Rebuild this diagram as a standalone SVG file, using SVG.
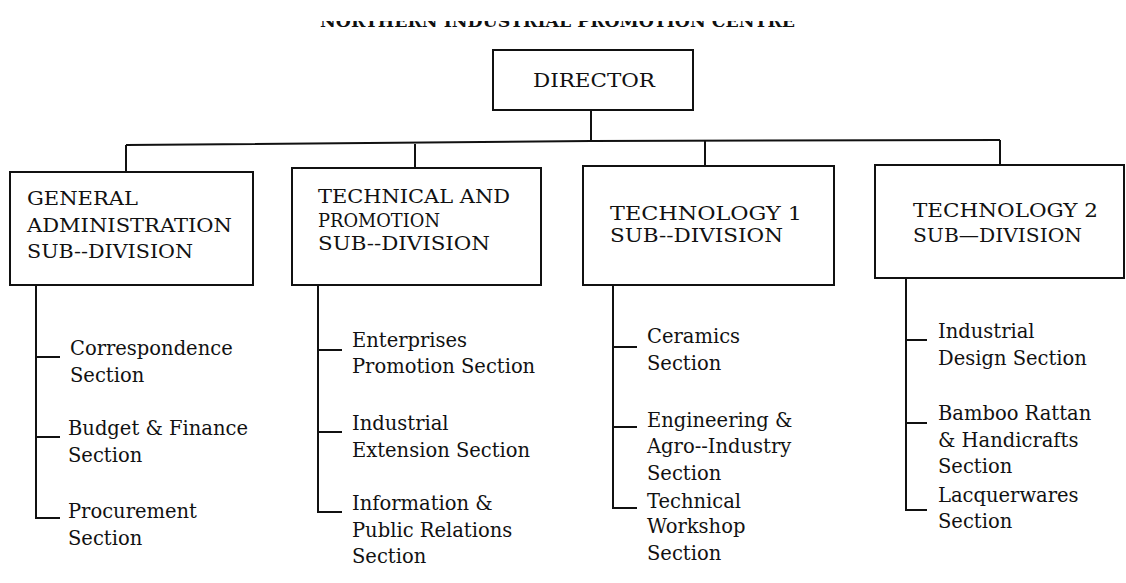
<svg xmlns="http://www.w3.org/2000/svg" width="1126" height="583" viewBox="0 0 1126 583">
<style>
.box{fill:#fff;stroke:#111;stroke-width:2}
.ln{fill:none;stroke:#111;stroke-width:2}
.hd{font-family:"DejaVu Serif","Liberation Serif",serif;font-size:18px;fill:#111}
.sc{font-family:"DejaVu Serif","Liberation Serif",serif;font-size:19.5px;fill:#111}
.tt{font-family:"DejaVu Serif","Liberation Serif",serif;font-size:17px;font-weight:bold;fill:#111}
</style>
<defs>
<clipPath id="titleClip"><rect x="0" y="21" width="1126" height="20"/></clipPath>
</defs>
<rect width="1126" height="583" fill="#fff"/>
<g id="title" clip-path="url(#titleClip)">
<text class="tt" x="320" y="27" textLength="475" lengthAdjust="spacingAndGlyphs">NORTHERN INDUSTRIAL PROMOTION CENTRE</text>
</g>
<g id="connectors">
<line class="ln" x1="591" y1="110" x2="591" y2="141"/>
<polyline class="ln" points="126,145 591,141 1000,140"/>
<line class="ln" x1="126" y1="145" x2="126" y2="172"/>
<line class="ln" x1="415" y1="144" x2="415" y2="168"/>
<line class="ln" x1="705" y1="141" x2="705" y2="166"/>
<line class="ln" x1="1000" y1="140" x2="1000" y2="165"/>
<polyline class="ln" points="36,285 36,518 60,518"/>
<line class="ln" x1="36" y1="357" x2="60" y2="357"/>
<line class="ln" x1="36" y1="437" x2="60" y2="437"/>
<polyline class="ln" points="318,285 318,512 342,512"/>
<line class="ln" x1="318" y1="350" x2="342" y2="350"/>
<line class="ln" x1="318" y1="432" x2="342" y2="432"/>
<polyline class="ln" points="613,285 613,508 637,508"/>
<line class="ln" x1="613" y1="347" x2="637" y2="347"/>
<line class="ln" x1="613" y1="427" x2="637" y2="427"/>
<polyline class="ln" points="906,278 906,510 927,510"/>
<line class="ln" x1="906" y1="340" x2="927" y2="340"/>
<line class="ln" x1="906" y1="423" x2="927" y2="423"/>
</g>
<g id="director">
<rect class="box" x="493" y="50" width="200" height="60"/>
<text class="hd" x="533" y="87" textLength="122" lengthAdjust="spacingAndGlyphs">DIRECTOR</text>
</g>
<g id="general-admin">
<rect class="box" x="10" y="172" width="243" height="113"/>
<text class="hd" x="27" y="205" textLength="111" lengthAdjust="spacingAndGlyphs">GENERAL</text>
<text class="hd" x="27" y="232" textLength="205" lengthAdjust="spacingAndGlyphs">ADMINISTRATION</text>
<text class="hd" x="27" y="258" textLength="166" lengthAdjust="spacingAndGlyphs">SUB--DIVISION</text>
</g>
<g id="technical-promotion">
<rect class="box" x="292" y="168" width="249" height="117"/>
<text class="hd" x="318" y="203" textLength="192" lengthAdjust="spacingAndGlyphs">TECHNICAL AND</text>
<text class="hd" x="318" y="227" textLength="122" lengthAdjust="spacingAndGlyphs">PROMOTION</text>
<text class="hd" x="318" y="250" textLength="172" lengthAdjust="spacingAndGlyphs">SUB--DIVISION</text>
</g>
<g id="technology-1">
<rect class="box" x="583" y="166" width="251" height="119"/>
<text class="hd" x="610" y="220" textLength="192" lengthAdjust="spacingAndGlyphs">TECHNOLOGY 1</text>
<text class="hd" x="610" y="242" textLength="173" lengthAdjust="spacingAndGlyphs">SUB--DIVISION</text>
</g>
<g id="technology-2">
<rect class="box" x="875" y="165" width="249" height="113"/>
<text class="hd" x="913" y="217" textLength="185" lengthAdjust="spacingAndGlyphs">TECHNOLOGY 2</text>
<text class="hd" x="913" y="242" textLength="169" lengthAdjust="spacingAndGlyphs">SUB—DIVISION</text>
</g>
<g id="correspondence">
<text class="sc" x="70" y="355">Correspondence</text>
<text class="sc" x="70" y="382">Section</text>
</g>
<g id="budget-finance">
<text class="sc" x="68" y="435">Budget &amp; Finance</text>
<text class="sc" x="68" y="462">Section</text>
</g>
<g id="procurement">
<text class="sc" x="68" y="518">Procurement</text>
<text class="sc" x="68" y="545">Section</text>
</g>
<g id="enterprises-promotion">
<text class="sc" x="352" y="347">Enterprises</text>
<text class="sc" x="352" y="373">Promotion Section</text>
</g>
<g id="industrial-extension">
<text class="sc" x="352" y="430">Industrial</text>
<text class="sc" x="352" y="457">Extension Section</text>
</g>
<g id="information-pr">
<text class="sc" x="352" y="510">Information &amp;</text>
<text class="sc" x="352" y="537">Public Relations</text>
<text class="sc" x="352" y="563">Section</text>
</g>
<g id="ceramics">
<text class="sc" x="647" y="343">Ceramics</text>
<text class="sc" x="647" y="370">Section</text>
</g>
<g id="engineering-agro">
<text class="sc" x="647" y="427">Engineering &amp;</text>
<text class="sc" x="647" y="453">Agro--Industry</text>
<text class="sc" x="647" y="480">Section</text>
</g>
<g id="technical-workshop">
<text class="sc" x="647" y="508">Technical</text>
<text class="sc" x="647" y="533">Workshop</text>
<text class="sc" x="647" y="560">Section</text>
</g>
<g id="industrial-design">
<text class="sc" x="938" y="338">Industrial</text>
<text class="sc" x="938" y="365">Design Section</text>
</g>
<g id="bamboo-rattan">
<text class="sc" x="938" y="420">Bamboo Rattan</text>
<text class="sc" x="938" y="447">&amp; Handicrafts</text>
<text class="sc" x="938" y="473">Section</text>
</g>
<g id="lacquerwares">
<text class="sc" x="938" y="502">Lacquerwares</text>
<text class="sc" x="938" y="528">Section</text>
</g>
</svg>
